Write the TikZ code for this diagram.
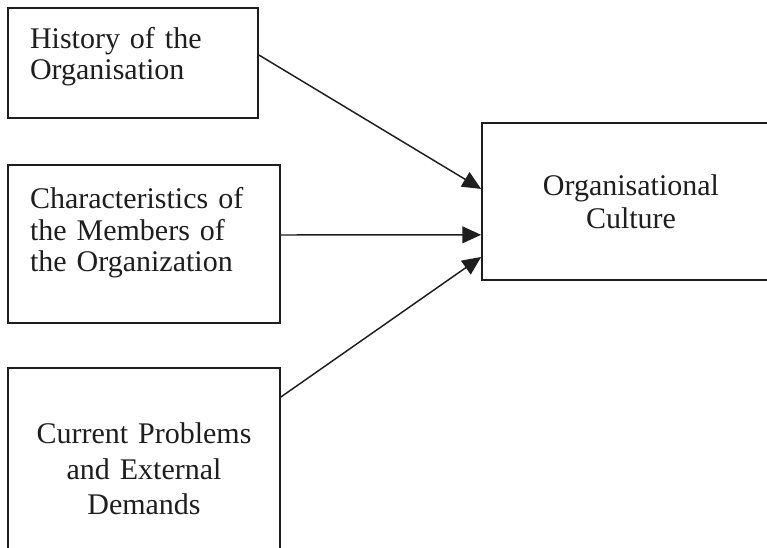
\documentclass[tikz,border=0pt]{standalone}
\usepackage{fontspec}
\setmainfont{Liberation Serif}
\usepackage{xcolor}
\usetikzlibrary{arrows.meta}
\definecolor{ink}{HTML}{1E1E1E}

\tikzset{
  box/.style={draw=ink, line width=1.3pt, inner sep=0pt, text=ink,
    font=\fontsize{22.5}{23.5}\selectfont},
  feed/.style={draw=ink, line width=1.1pt,
    -{Triangle[length=14pt, width=12.5pt]}}
}

\begin{document}
\begin{tikzpicture}[x=0.75pt, y=-0.75pt]

\useasboundingbox (0,0) rectangle (767,548);
\clip (0,0) rectangle (767,548);
\fill[white] (0,0) rectangle (767,548);

% =========================
% SOURCE BOXES (left column)
% =========================
% text depth pushes the lines up towards the top edge
\node[box, minimum width=187.5pt, minimum height=82.5pt,
  text width=154.5pt, text depth=37.4pt, align=left] (hist) at (133,63)
{History of the\\Organisation};

\node[box, minimum width=204pt, minimum height=118.5pt,
  text width=171pt, text depth=68.4pt, align=left] (memb) at (144,244)
{Characteristics of\\the Members of\\the Organization};

% bottom box runs off the page
\node[box, minimum width=204pt, minimum height=151.5pt,
  text width=171pt, align=center,
  font=\fontsize{22.5}{26.5}\selectfont] (demand) at (144,469)
{Current Problems\\and External\\Demands};

% =========================
% TARGET BOX (right)
% =========================
\node[box, minimum width=223.5pt, minimum height=117.75pt,
  text width=200pt, align=center,
  font=\fontsize{22.5}{25}\selectfont] (culture) at (631,201.5)
{Organisational\\Culture};

% =========================
% CONNECTORS
% =========================
\draw[feed] ([yshift=6pt]hist.east) -- ([yshift=9.4pt]culture.west);
\draw[feed] ([yshift=6.75pt]memb.east) -- ([yshift=-25pt]culture.west);
\draw[feed] ([yshift=54pt]demand.east) -- ([yshift=-41.6pt]culture.west);

\end{tikzpicture}
\end{document}
